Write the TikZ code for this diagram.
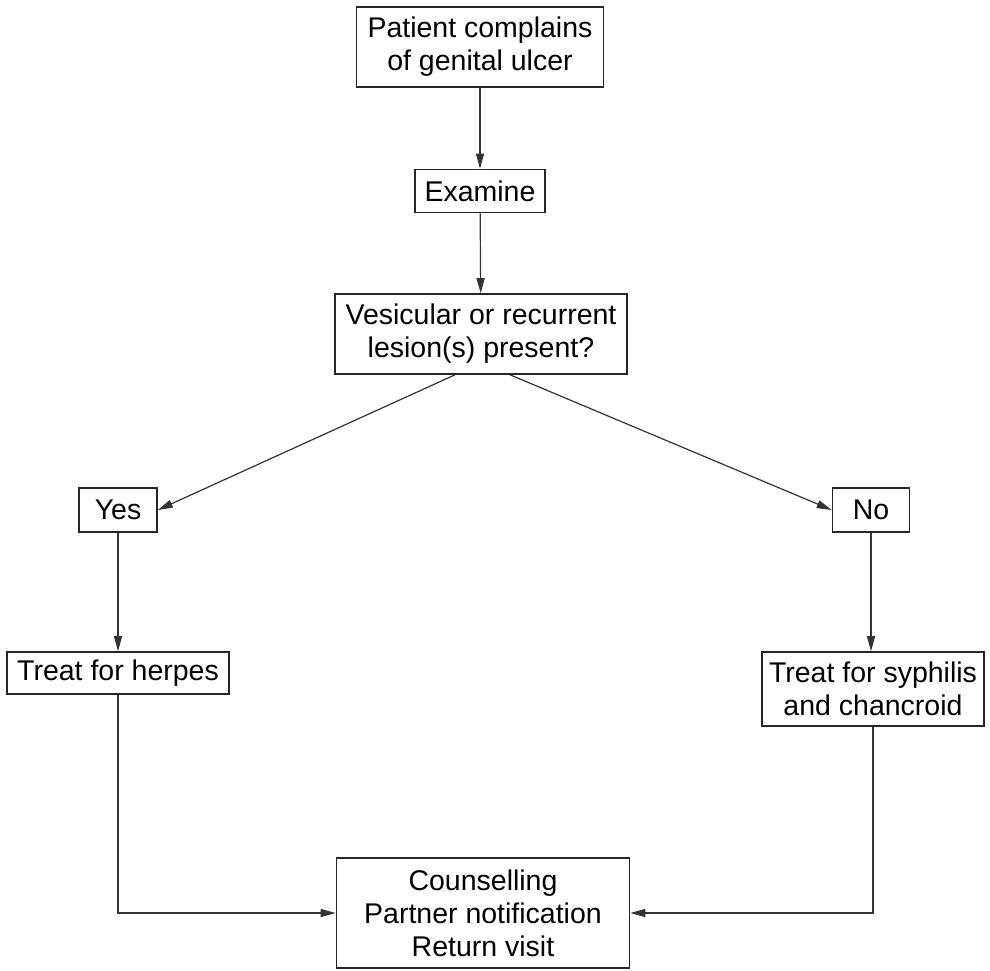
\documentclass[tikz,border=0pt]{standalone}
\usepackage{fontspec}
\setmainfont{Liberation Sans}
\usetikzlibrary{arrows.meta, positioning}

\tikzset{
  box/.style={draw=black!85, line width=1.6pt, align=center, inner sep=0pt,
    font=\fontsize{28.5}{33}\selectfont},
  flow/.style={draw=black!80, line width=1.2pt,
    -{Triangle[length=15pt,width=8pt]}}
}

\begin{document}
\begin{tikzpicture}[x=1pt, y=-1pt]
    \useasboundingbox (0,0) rectangle (990,971);

    % question
    \node[box, minimum width=247, minimum height=80] (patient) at (480,47)
      {Patient complains\\of genital ulcer};
    \node[box, minimum width=130, minimum height=43] (examine) at (480,191) {Examine};
    \node[box, minimum width=292, minimum height=80] (lesion) at (481,334)
      {Vesicular or recurrent\\lesion(s) present?};

    % answers
    \node[box, minimum width=78, minimum height=44] (yes) at (118,510) {Yes};
    \node[box, minimum width=77, minimum height=44] (no) at (871,510) {No};

    % treatment
    \node[box, minimum width=222, minimum height=42] (herpes) at (118,673) {Treat for herpes};
    \node[box, minimum width=222, minimum height=74] (syphilis) at (873,689)
      {Treat for syphilis\\and chancroid};
    \node[box, minimum width=293, minimum height=110] (followup) at (483,913)
      {Counselling\\Partner notification\\Return visit};

    \draw[flow] (patient) -- (examine);
    \draw[flow] (examine) -- (lesion);
    \draw[flow] ([xshift=-26pt]lesion.south) -- (yes.east);
    \draw[flow] ([xshift=29pt]lesion.south) -- (no.west);
    \draw[flow] (yes) -- (herpes);
    \draw[flow] (no) -- (no |- syphilis.north);
    \draw[flow] (herpes.south) |- (followup.west);
    \draw[flow] (syphilis.south) |- (followup.east);
  \end{tikzpicture}
\end{document}
